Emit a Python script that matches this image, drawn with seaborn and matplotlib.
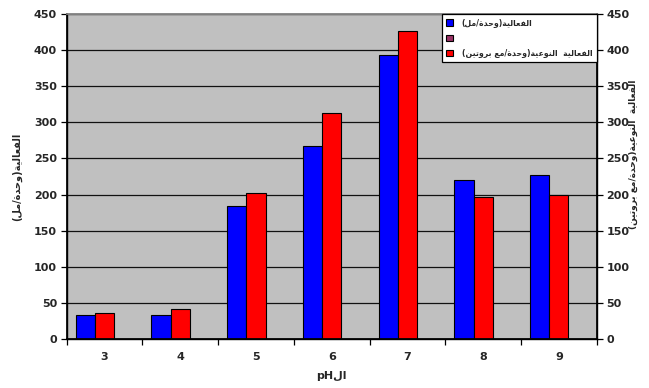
import numpy as np
import pandas as pd
import matplotlib
matplotlib.use("Agg")
import matplotlib.pyplot as plt
from matplotlib.patches import Patch
import seaborn as sns

# pH values and the two measured series
ph_values = ["3", "4", "5", "6", "7", "8", "9"]
activity = [33, 33, 184, 267, 393, 220, 227]              # units / ml
specific_activity = [35.5, 41, 201.5, 313.5, 426, 196, 200]  # units / mg protein
y_ticks = [0, 50, 100, 150, 200, 250, 300, 350, 400, 450]

label_activity = "الفعالية(وحدة/مل)"
label_specific = "الفعالية  النوعية(وحدة/مع بروتين)"
label_empty = ""
label_x_prefix = "ال"

# --- minimal Arabic shaping (presentation forms) + right-to-left ordering ---
FORMS = {
    "ا": ("\uFE8D", "\uFE8E", None, None),
    "ب": ("\uFE8F", "\uFE90", "\uFE91", "\uFE92"),
    "ة": ("\uFE93", "\uFE94", None, None),
    "ت": ("\uFE95", "\uFE96", "\uFE97", "\uFE98"),
    "ح": ("\uFEA1", "\uFEA2", "\uFEA3", "\uFEA4"),
    "د": ("\uFEA9", "\uFEAA", None, None),
    "ر": ("\uFEAD", "\uFEAE", None, None),
    "ع": ("\uFEC9", "\uFECA", "\uFECB", "\uFECC"),
    "ف": ("\uFED1", "\uFED2", "\uFED3", "\uFED4"),
    "ل": ("\uFEDD", "\uFEDE", "\uFEDF", "\uFEE0"),
    "م": ("\uFEE1", "\uFEE2", "\uFEE3", "\uFEE4"),
    "ن": ("\uFEE5", "\uFEE6", "\uFEE7", "\uFEE8"),
    "و": ("\uFEED", "\uFEEE", None, None),
    "ي": ("\uFEF1", "\uFEF2", "\uFEF3", "\uFEF4"),
}


def shape(s):
    out = []
    for i, c in enumerate(s):
        if c not in FORMS:
            out.append(c)
            continue
        prev = s[i - 1] if i > 0 else ""
        nxt = s[i + 1] if i + 1 < len(s) else ""
        joins_prev = prev in FORMS and FORMS[prev][2] is not None
        joins_next = nxt in FORMS and FORMS[c][2] is not None
        iso, fin, ini, med = FORMS[c]
        if joins_prev and joins_next:
            out.append(med)
        elif joins_prev:
            out.append(fin)
        elif joins_next:
            out.append(ini)
        else:
            out.append(iso)
    return out


def rtl(s):
    mirror = {"(": ")", ")": "("}
    return "".join(mirror.get(c, c) for c in shape(s)[::-1])


# --- data table (third, empty series keeps the spacing of the clusters) ---
df = pd.DataFrame({
    "pH": ph_values * 3,
    "value": activity + specific_activity + [np.nan] * len(ph_values),
    "series": ["act"] * 7 + ["spec"] * 7 + ["empty"] * 7,
})
palette = {"act": "#0000FF", "spec": "#FF0000", "empty": "#993366"}

sns.set_theme(style="white")
plt.rcParams["font.family"] = ["DejaVu Sans"]
plt.rcParams["font.weight"] = "bold"

W, H = 649, 388
fig = plt.figure(figsize=(W / 100, H / 100), dpi=100)
fig.patch.set_facecolor("white")
left, right, top, bottom = 66.7, 596.7, 14, 339
ax = fig.add_axes([left / W, 1 - bottom / H, (right - left) / W, (bottom - top) / H])

sns.barplot(
    data=df, x="pH", y="value", hue="series", hue_order=["act", "spec", "empty"],
    palette=palette, width=0.76, dodge=True, saturation=1, errorbar=None,
    edgecolor="black", linewidth=0.8, legend=False, ax=ax,
)

ax.set_facecolor("#C0C0C0")
ax.set_xlim(-0.5, len(ph_values) - 0.5)
ax.set_ylim(0, 450)
ax.set_yticks(y_ticks)
ax.yaxis.grid(True, color="#111111", linewidth=0.9)
ax.xaxis.grid(False)
ax.set_axisbelow(True)

TICK_FS = 8

# category boundaries as tick marks, category names centred between them
ax.set_xticks(np.arange(-0.5, len(ph_values), 1.0))
ax.set_xticklabels([])
ax.set_xticks(range(len(ph_values)), labels=ph_values, minor=True)
ax.tick_params(axis="x", which="major", direction="out", length=4, width=0.9,
               color="black", bottom=True)
ax.tick_params(axis="x", which="minor", length=0, pad=9.5, labelsize=TICK_FS)
ax.tick_params(axis="y", direction="out", length=4, width=0.9, color="black",
               left=True, labelsize=TICK_FS, pad=3)
for lbl in ax.get_xticklabels(minor=True) + ax.get_yticklabels():
    lbl.set_fontweight("bold")

for side in ["left", "bottom", "right"]:
    ax.spines[side].set_color("black")
    ax.spines[side].set_linewidth(1.0)
ax.spines["top"].set_color("#808080")
ax.spines["top"].set_linewidth(1.0)

ax.set_xlabel("pH" + rtl(label_x_prefix), fontsize=TICK_FS, fontweight="bold")
ax.xaxis.set_label_coords(0.5, (bottom - 376) / (bottom - top))
ax.xaxis.label.set_va("center")
ax.set_ylabel(rtl(label_activity), fontsize=7, fontweight="bold", rotation=90)
ax.yaxis.set_label_coords((17 - left) / (right - left), (bottom - 177) / (bottom - top))
ax.yaxis.label.set_va("center")

# secondary axis for the specific activity
ax2 = ax.twinx()
ax2.set_ylim(0, 450)
ax2.set_yticks(y_ticks)
ax2.tick_params(axis="y", direction="out", length=4, width=0.9, color="black",
                right=True, labelsize=TICK_FS, pad=3)
for lbl in ax2.get_yticklabels():
    lbl.set_fontweight("bold")
ax2.spines["right"].set_color("black")
ax2.spines["left"].set_color("black")
ax2.spines["bottom"].set_color("black")
ax2.spines["top"].set_color("#808080")
ax2.set_ylabel(rtl(label_specific), fontsize=6.5, fontweight="bold", rotation=90)
ax2.yaxis.set_label_coords((633 - left) / (right - left), (bottom - 154) / (bottom - top))
ax2.yaxis.label.set_va("center")

handles = [
    Patch(facecolor=palette["act"], edgecolor="black", linewidth=0.8),
    Patch(facecolor=palette["empty"], edgecolor="black", linewidth=0.8),
    Patch(facecolor=palette["spec"], edgecolor="black", linewidth=0.8),
]
labels = [rtl(label_activity), label_empty, rtl(label_specific)]
leg = ax2.legend(
    handles, labels, loc="upper right", bbox_to_anchor=(1, 1), borderaxespad=0,
    fontsize=5.6, frameon=True, fancybox=False, framealpha=1, edgecolor="black",
    handlelength=0.9, handleheight=0.9, handletextpad=1.1, labelspacing=0.8,
    borderpad=0.55,
)
leg.get_frame().set_linewidth(0.9)
for t in leg.get_texts():
    t.set_fontweight("bold")

fig.savefig("out.png", dpi=100)
